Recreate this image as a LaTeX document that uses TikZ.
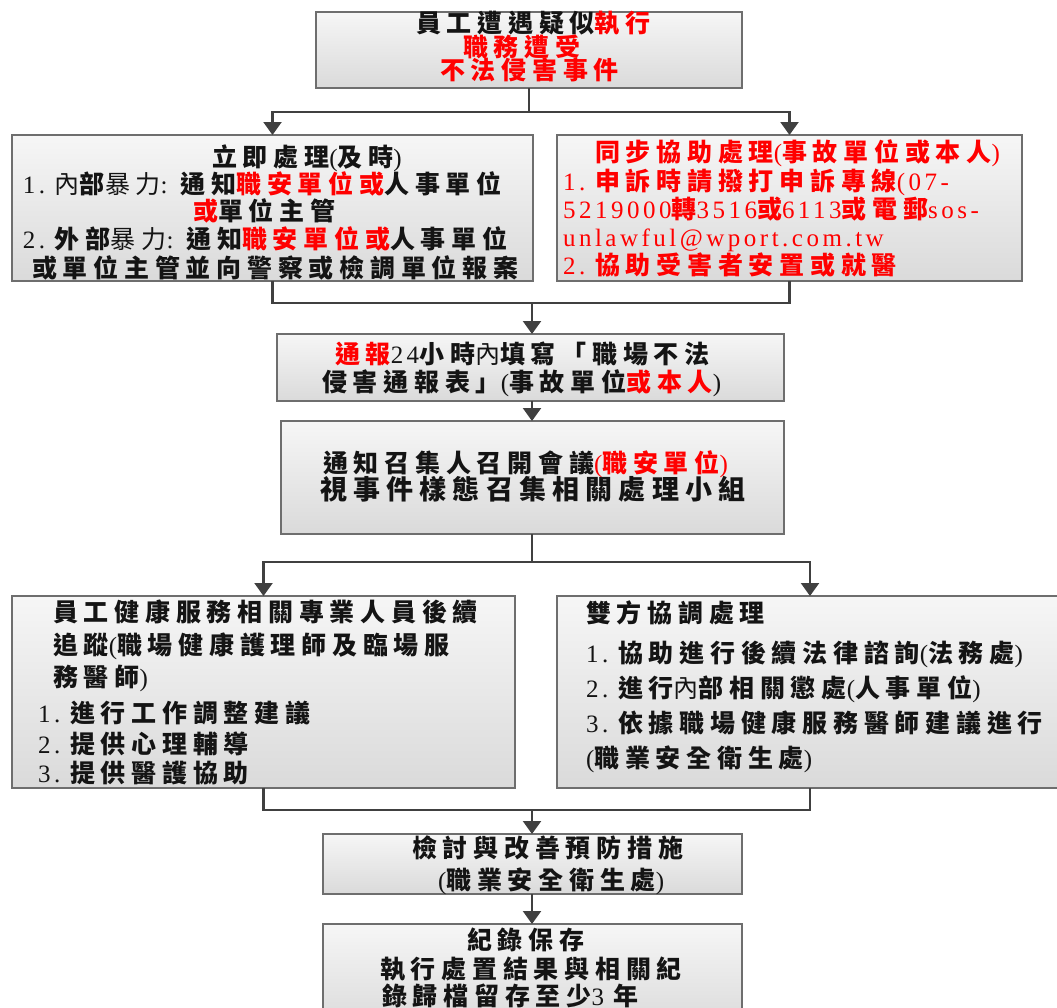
\documentclass[tikz,border=0pt]{standalone}
\usepackage{fontspec}
\setmainfont{Noto Sans CJK TC}[LetterSpace=23]
\newfontfamily\latfont{Liberation Serif}[LetterSpace=14]
\usetikzlibrary{arrows.meta}
\definecolor{boxline}{HTML}{6E6E6E}
\definecolor{conncol}{HTML}{404040}
\definecolor{txtred}{HTML}{FF0000}
\definecolor{txtblk}{HTML}{141414}
\definecolor{filltop}{HTML}{F6F6F6}
\definecolor{fillbot}{HTML}{DADADA}
\newcommand\rd[1]{\textcolor{txtred}{#1}}
\newcommand\ltn[1]{{\latfont\mdseries #1}}
\newcommand\thn[1]{{\mdseries #1}}
\newcommand\flowbox[5]{%
  \node[fbox, minimum width={(#4-#2)*1pt}, minimum height={(#5-#3)*1pt}] (#1) at ({(#2+#4)/2},{(#3+#5)/2}) {};}
\tikzset{
  fbox/.style={draw=boxline, line width=1.3pt, top color=filltop, bottom color=fillbot, inner sep=0pt, outer sep=0pt, rectangle},
  txt/.style={inner sep=0pt, outer sep=0pt, anchor=west, text height=22pt, text depth=3pt, text=txtblk, font=\fontsize{25}{29}\selectfont\bfseries},
  bigtxt/.style={txt, text height=24pt, text depth=3pt, font=\fontsize{27}{31}\selectfont\bfseries},
  conn/.style={draw=conncol, line width=2.2pt},
  arr/.style={conn, -{Triangle[length=13pt,width=18pt]}}
}
\begin{document}
\begin{tikzpicture}[x=1pt,y=-1pt]
\useasboundingbox (0,0) rectangle (1057,1007);
\fill[white] (0,0) rectangle (1057,1007);
\clip (0,0) rectangle (1057,1007);

% boxes
\flowbox{b1}{316}{12}{742}{88}
\flowbox{b2}{12}{135}{533}{281}
\flowbox{b3r}{557}{135}{1022}{281}
\flowbox{b3}{277}{334}{784}{401}
\flowbox{b4}{281}{421}{784}{534}
\flowbox{b5}{12}{596}{515}{788}
\flowbox{b6}{557}{596}{1063}{788}
\flowbox{b7}{323}{834}{742}{894}
\flowbox{b8}{323}{924}{742}{1030}

% box 1
\node[txt] (t1a) at (416,23) {員工遭遇疑似\rd{執行}};
\node[txt] (t1b) at (463,47) {\rd{職務遭受}};
\node[txt] (t1c) at (440,70) {\rd{不法侵害事件}};

% box 2
\node[txt] (t2a) at (212,157) {立即處理\ltn{(}及時\ltn{)}};
\node[txt] (t2b) at (23,184) {\ltn{1.\ }\thn{內}部\thn{暴力}\ltn{: }通知\rd{職安單位或}人事單位};
\node[txt] (t2c) at (193,211) {\rd{或}單位主管};
\node[txt] (t2d) at (23,239) {\ltn{2.\ }外部\thn{暴力}\ltn{: }通知\rd{職安單位或}人事單位};
\node[txt] (t2e) at (32,268) {或單位主管並向警察或檢調單位報案};

% box 3r
\node[txt,text=txtred] (t3a) at (595,152) {同步協助處理\ltn{(}事故單位或本人\ltn{)}};
\node[txt,text=txtred] (t3b) at (563,181) {\ltn{1.\ }申訴時請撥打申訴專線\ltn{(07-}};
\node[txt,text=txtred] (t3c) at (563,209) {\ltn{5219000}轉\ltn{3516}或\ltn{6113}或電郵\ltn{sos-}};
\node[txt,text=txtred] (t3d) at (563,237) {\ltn{unlawful@wport.com.tw}};
\node[txt,text=txtred] (t3e) at (563,265) {\ltn{2.\ }協助受害者安置或就醫};

% box 3
\node[txt] (t4a) at (335,354) {\rd{通報}\ltn{24}小時\thn{內}填寫「\hspace{6pt}職場不法};
\node[txt] (t4b) at (322,382) {侵害通報表」\ltn{(}事故單位\rd{或本人}\ltn{)}};

% box 4
\node[txt] (t5a) at (323,463) {通知召集人召開會議\rd{\ltn{(}職安單位\ltn{)}}};
\node[bigtxt] (t5b) at (320,489) {視事件樣態召集相關處理小組};

% box 5
\node[txt] (t6a) at (53,612) {員工健康服務相關專業人員後續};
\node[txt] (t6b) at (53,645) {追蹤\ltn{(}職場健康護理師及臨場服};
\node[txt] (t6c) at (53,677) {務醫師\ltn{)}};
\node[txt] (t6d) at (38,713) {\ltn{1.\ }進行工作調整建議};
\node[txt] (t6e) at (38,744) {\ltn{2.\ }提供心理輔導};
\node[txt] (t6f) at (38,773) {\ltn{3.\ }提供醫護協助};

% box 6
\node[txt] (t7a) at (586,613) {雙方協調處理};
\node[txt] (t7b) at (586,653) {\ltn{1.\ }協助進行後續法律諮詢\ltn{(}法務處\ltn{)}};
\node[txt] (t7c) at (586,688) {\ltn{2.\ }進行\thn{內}部相關懲處\ltn{(}人事單位\ltn{)}};
\node[txt] (t7d) at (586,723) {\ltn{3.\ }依據職場健康服務醫師建議進行};
\node[txt] (t7e) at (586,758) {\ltn{(}職業安全衛生處\ltn{)}};

% box 7
\node[txt] (t8a) at (412,848) {檢討與改善預防措施};
\node[txt] (t8b) at (438,880) {\ltn{(}職業安全衛生處\ltn{)}};

% box 8
\node[txt] (t9a) at (467,940) {紀錄保存};
\node[txt] (t9b) at (380,969) {執行處置結果與相關紀};
\node[txt] (t9c) at (382,996) {錄歸檔留存至少\ltn{3 }年};

% connectors
\coordinate (j1) at (529,112);
\draw[conn] (b1.south) -- (j1);
\draw[arr] (j1) -| (b2.north);
\draw[arr] (j1) -| (b3r.north);

\coordinate (j2) at (532,303);
\draw[conn] (b2.south) |- (j2);
\draw[conn] (b3r.south) |- (j2);
\draw[arr] (j2) -- (j2 |- b3.north);
\draw[arr] (b3.south -| j2) -- (b4.north -| j2);

\coordinate (j3) at (532,562);
\draw[conn] (b4.south -| j3) -- (j3);
\draw[arr] (j3) -| (b5.north);
\draw[arr] (j3) -| (b6.north);

\coordinate (j4) at (532,810);
\draw[conn] (b5.south) |- (j4);
\draw[conn] (b6.south) |- (j4);
\draw[arr] (j4) -- (j4 |- b7.north);
\draw[arr] (b7.south -| j4) -- (b8.north -| j4);
\end{tikzpicture}
\end{document}
